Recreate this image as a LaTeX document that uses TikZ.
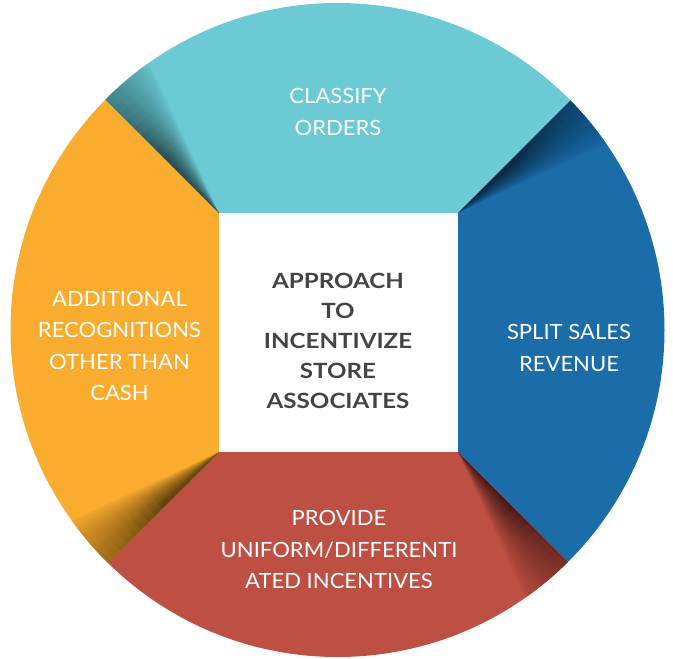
\documentclass[tikz,border=0pt]{standalone}
\usepackage{fontspec}
\setmainfont{Lato}
\newfontfamily\segfont{Lato}[FakeStretch=1.05]
\newfontfamily\hubfont{Lato}[FakeStretch=1.15]
\usetikzlibrary{calc}

\definecolor{segcyan}{RGB}{107,202,212}
\definecolor{segblue}{RGB}{27,109,170}
\definecolor{segorange}{RGB}{249,172,46}
\definecolor{segred}{RGB}{189,80,67}
\definecolor{hubgray}{RGB}{68,68,68}

\tikzset{
  segtext/.style={text=white, align=center, inner sep=0pt,
    font=\segfont\fontsize{21}{31.5}\selectfont},
  hubtext/.style={text=hubgray, align=center, inner sep=0pt,
    font=\hubfont\bfseries\fontsize{21}{29.8}\selectfont},
  fold/.style={black, opacity=0.045},
}

\begin{document}
\begin{tikzpicture}[x=1pt,y=-1pt]
\useasboundingbox (0,0) rectangle (673,659);

% wheel centre and the corners of the central square
\coordinate (c) at (337.5,330);
\coordinate (tl) at (219,213);
\coordinate (tr) at (458,213);
\coordinate (br) at (458,452);
\coordinate (bl) at (219,452);

\begin{scope}
  \clip (c) circle[radius=327];
  % four segments, split along the diagonals of the square
  \fill[segcyan]   (tl) -- ($(tl)+(-400,-400)$) -- ($(tr)+(400,-400)$) -- (tr) -- cycle;
  \fill[segblue]   (tr) -- ($(tr)+(400,-400)$) -- ($(br)+(400,400)$) -- (br) -- cycle;
  \fill[segred]    (br) -- ($(br)+(400,400)$) -- ($(bl)+(-400,400)$) -- (bl) -- cycle;
  \fill[segorange] (bl) -- ($(bl)+(-400,400)$) -- ($(tl)+(-400,-400)$) -- (tl) -- cycle;
  % folded shadow at the leading edge of each segment
  \foreach \corner/\start/\col in {tl/-135/segcyan, tr/-45/segblue, br/45/segred, bl/135/segorange} {
    \foreach \k in {1,...,20} {
      \fill[fold] (\corner) -- ($(\corner)+(\start:480)$)
                  -- ($(\corner)+({\start+\k}:480)$) -- cycle;
    }
    % the fold lightens again towards the rim
    \begin{scope}
      \clip (\corner) -- ($(\corner)+(\start:480)$) -- ($(\corner)+({\start+20}:480)$) -- cycle;
      \foreach \r in {80,90,...,200} {
        \fill[\col, opacity=0.07, even odd rule]
          (\corner) circle[radius=500] (\corner) circle[radius=\r];
      }
    \end{scope}
  }
\end{scope}

% central square
\fill[white] (tl) rectangle (br);

\node[segtext] (classify) at (338,112) {CLASSIFY\\ORDERS};
\node[segtext] (split) at (569,348) {SPLIT SALES\\REVENUE};
\node[segtext] (provide) at (339,549.5) {PROVIDE\\UNIFORM/DIFFERENTI\\ATED INCENTIVES};
\node[segtext] (recog) at (119.5,346) {ADDITIONAL\\RECOGNITIONS\\OTHER THAN\\CASH};
\node[hubtext] (hub) at (338,341) {APPROACH\\TO\\INCENTIVIZE\\STORE\\ASSOCIATES};
\end{tikzpicture}
\end{document}
